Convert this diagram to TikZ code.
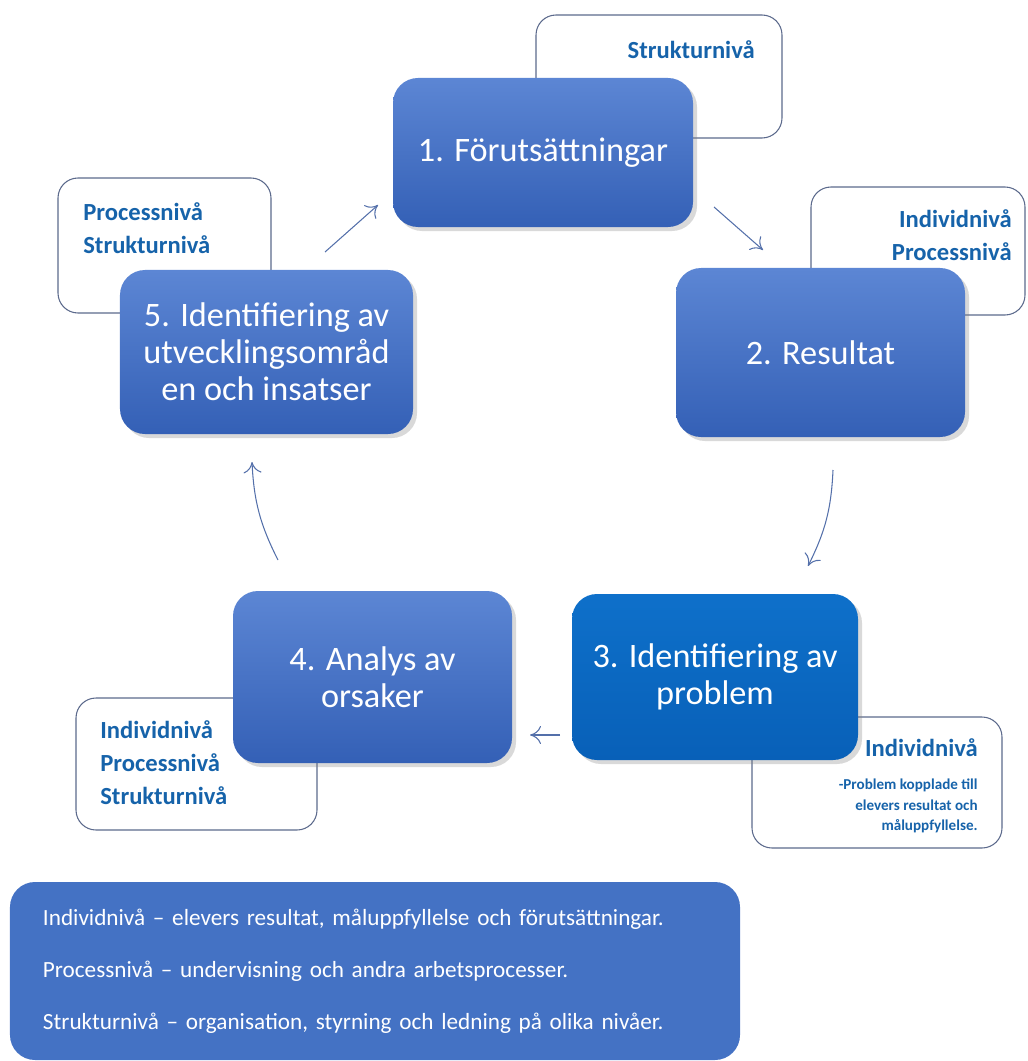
\documentclass[tikz,border=0pt]{standalone}
\usepackage{fontspec}
\setmainfont{Carlito}
\usepackage{tikz}
\usetikzlibrary{arrows.meta,shapes,shadows,positioning}
\definecolor{stagetop}{RGB}{92,134,212}
\definecolor{stagebot}{RGB}{52,96,182}
\definecolor{probtop}{RGB}{14,112,202}
\definecolor{probbot}{RGB}{8,96,184}
\definecolor{legendfill}{RGB}{68,114,196}
\definecolor{noteline}{RGB}{92,106,140}
\definecolor{notetext}{RGB}{22,99,170}
\definecolor{flowcol}{RGB}{84,112,170}
\tikzstyle{stage} =
  [rectangle, rounded corners=5mm, text=white, align=center,
   font=\fontsize{19.5}{21}\selectfont, top color=stagetop, bottom color=stagebot,
   drop shadow={opacity=0.3, shadow xshift=0.8mm, shadow yshift=-0.8mm}]
\tikzstyle{note} =
  [rectangle, draw=noteline, line width=0.6pt, fill=white, rounded corners=4mm]
\tikzstyle{notetxt} =
  [text=notetext, inner sep=0pt, font=\bfseries\fontsize{14}{18.8}\selectfont]
\tikzstyle{flow}=[draw=flowcol, line width=0.6pt, -{To[length=2.2mm,width=3.6mm]}]

\begin{document}
\begin{tikzpicture}[x=0.2mm, y=-0.2mm]
  \useasboundingbox (0,0) rectangle (1027,1061);

  % callouts behind the stages
  \node [note, minimum width=49.2mm, minimum height=24.6mm] (c1) at (659,76.5) {};
  \node [note, minimum width=42.8mm, minimum height=25.6mm] (c2) at (918,251) {};
  \node [note, minimum width=50mm, minimum height=26.2mm] (c3) at (877,782.5) {};
  \node [note, minimum width=48.2mm, minimum height=26.4mm] (c4) at (196.5,764) {};
  \node [note, minimum width=42.6mm, minimum height=27mm] (c5) at (164.5,245.5) {};

  \node [notetxt, anchor=east] (t1) at (755,50) {Strukturnivå};
  \node [notetxt, anchor=east, align=right] (t2) at (1012,235) {Individnivå\\Processnivå};
  \node [notetxt, anchor=east] (t3) at (978,748) {Individnivå};
  \node [notetxt, anchor=east, align=right, font=\bfseries\fontsize{8.6}{11.7}\selectfont]
    (t3b) at (978,806) {-Problem kopplade till\\elevers resultat och\\måluppfyllelse.};
  \node [notetxt, anchor=west, align=left] (t4) at (100,763)
    {Individnivå\\Processnivå\\Strukturnivå};
  \node [notetxt, anchor=west, align=left] (t5) at (83,228.5) {Processnivå\\Strukturnivå};

  % the five stages
  \node [stage, minimum width=60mm, minimum height=29.8mm] (s1) at (543,152.5)
    {1. Förutsättningar};
  \node [stage, minimum width=57.8mm, minimum height=33.8mm] (s2) at (820.5,352.5)
    {2. Resultat};
  \node [stage, top color=probtop, bottom color=probbot,
    minimum width=57.2mm, minimum height=33.2mm] (s3) at (715,677)
    {3. Identifiering av\\problem};
  \node [stage, minimum width=55.8mm, minimum height=34.4mm] (s4) at (372.5,677)
    {4. Analys av\\orsaker};
  \node [stage, minimum width=58.6mm, minimum height=32.8mm] (s5) at (266.5,352)
    {5. Identifiering av\\utvecklingsområd\\en och insatser};

  % arrows between the stages
  \coordinate (a1s) at (714,207);  \coordinate (a1e) at (763,250);
  \coordinate (a2s) at (833,470);  \coordinate (a2e) at (808,566);
  \coordinate (a3s) at (560,735);  \coordinate (a3e) at (530,735);
  \coordinate (a4s) at (278,560);  \coordinate (a4e) at (252,462);
  \coordinate (a5s) at (325,252);  \coordinate (a5e) at (378,205);
  \draw [flow] (a1s) to (a1e);
  \draw [flow] (a2s) to [bend left=12] (a2e);
  \draw [flow] (a3s) to (a3e);
  \draw [flow] (a4s) to [bend left=12] (a4e);
  \draw [flow] (a5s) to (a5e);

  % legend
  \node [rectangle, rounded corners=5mm, fill=legendfill, text=white,
    minimum width=146mm, minimum height=35.6mm, text width=132.8mm, align=left,
    font=\fontsize{13.2}{29.6}\selectfont] (leg) at (375,971)
    {Individnivå -- elevers resultat, måluppfyllelse och förutsättningar.\\
     Processnivå -- undervisning och andra arbetsprocesser.\\
     Strukturnivå -- organisation, styrning och ledning på olika nivåer.};
\end{tikzpicture}
\end{document}
